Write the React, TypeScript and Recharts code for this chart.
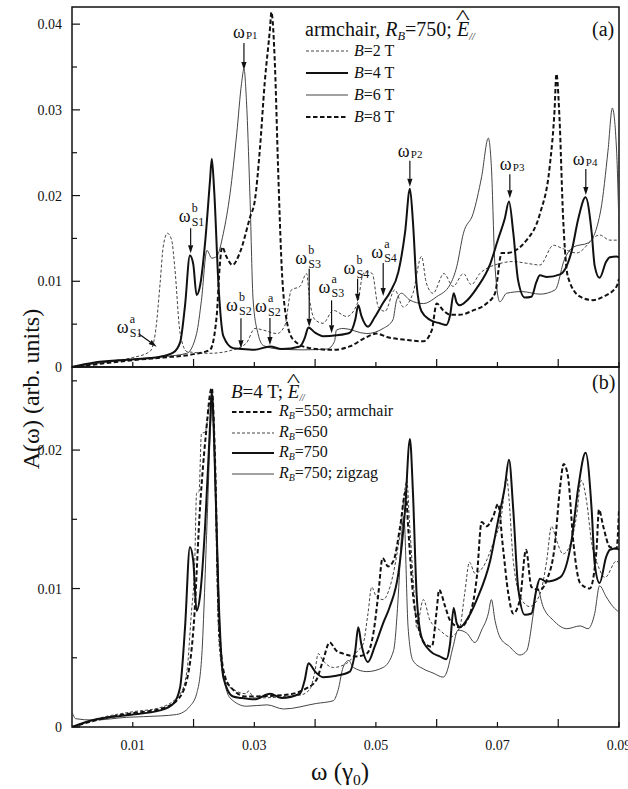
import React from 'react'
import { LineChart, Line, XAxis, YAxis, ReferenceArea, ReferenceDot } from 'recharts'

type Pt = [number, number]

// (a) armchair ring, R_B = 750, spectra for several fields
const fieldB2: Pt[] = [
  [0, 0], [0.005, 0.0006], [0.01, 0.0011], [0.0128, 0.0018], [0.0137, 0.0039], [0.0145, 0.0098],
  [0.015, 0.014], [0.0157, 0.0156], [0.0164, 0.0148], [0.0169, 0.0117], [0.0178, 0.0039],
  [0.0189, 0.0018], [0.0227, 0.0016], [0.0265, 0.002], [0.0287, 0.0028], [0.0301, 0.0045],
  [0.0315, 0.0043], [0.0337, 0.0039], [0.035, 0.0048], [0.0361, 0.009], [0.0375, 0.0094],
  [0.0386, 0.0109], [0.0391, 0.0078], [0.04, 0.0055], [0.0413, 0.0051], [0.043, 0.0066],
  [0.0452, 0.0059], [0.047, 0.0075], [0.0479, 0.0109], [0.0485, 0.0111], [0.0494, 0.0109],
  [0.0504, 0.007], [0.0515, 0.0065], [0.0531, 0.009], [0.0545, 0.007], [0.0561, 0.0086],
  [0.0575, 0.0129], [0.0583, 0.0098], [0.0594, 0.0086], [0.0612, 0.0109], [0.0627, 0.0094],
  [0.0644, 0.0109], [0.0657, 0.0096], [0.0671, 0.0109], [0.0688, 0.0117], [0.07, 0.012],
  [0.0725, 0.0123], [0.0748, 0.0121], [0.077, 0.0119], [0.0792, 0.0142], [0.0808, 0.0138],
  [0.083, 0.0133], [0.0868, 0.0154], [0.0885, 0.0148], [0.09, 0.0148],
]

const fieldB4: Pt[] = [
  [0, 0], [0.0035, 0.0005], [0.009, 0.00085], [0.0145, 0.0012], [0.0167, 0.0017], [0.0178, 0.0029],
  [0.0186, 0.0072], [0.0194, 0.013], [0.01995, 0.012], [0.0205, 0.0084], [0.0211, 0.0096],
  [0.0219, 0.0145], [0.0227, 0.0217], [0.023, 0.0243], [0.0234, 0.0205], [0.0241, 0.0096],
  [0.0249, 0.0036], [0.0265, 0.0022], [0.0278, 0.0021], [0.03, 0.002], [0.0326, 0.0024],
  [0.0345, 0.0021], [0.0375, 0.0024], [0.0383, 0.0034], [0.0389, 0.0046], [0.04, 0.004],
  [0.0413, 0.0036], [0.0435, 0.0037], [0.0457, 0.004], [0.0466, 0.0055], [0.0471, 0.0072],
  [0.0476, 0.006], [0.0487, 0.0047], [0.0498, 0.0058], [0.0512, 0.0075], [0.0523, 0.0087],
  [0.0537, 0.0111], [0.0548, 0.0157], [0.0556, 0.0208], [0.0561, 0.0169], [0.0567, 0.0096],
  [0.0575, 0.0065], [0.0589, 0.0055], [0.0605, 0.0051], [0.0616, 0.0049], [0.0622, 0.006],
  [0.0628, 0.0086], [0.0633, 0.0075], [0.0638, 0.0072], [0.0649, 0.0077], [0.0666, 0.0092],
  [0.0688, 0.012], [0.0701, 0.0149], [0.0712, 0.0173], [0.0719, 0.0193], [0.0726, 0.0157],
  [0.0734, 0.0101], [0.0745, 0.0081], [0.0756, 0.0082], [0.0764, 0.0099], [0.077, 0.0107],
  [0.0781, 0.0105], [0.0803, 0.0108], [0.0822, 0.0135], [0.0833, 0.0173], [0.0845, 0.0198],
  [0.0855, 0.0157], [0.086, 0.0118], [0.0868, 0.0104], [0.0879, 0.0123], [0.0885, 0.0128],
  [0.0896, 0.0129], [0.09, 0.0128],
]

const fieldB6: Pt[] = [
  [0, 0], [0.005, 0.0005], [0.01, 0.0009], [0.015, 0.0012], [0.0189, 0.0016], [0.0205, 0.0039],
  [0.0213, 0.0078], [0.0222, 0.0136], [0.023, 0.0127], [0.0238, 0.0129], [0.0249, 0.0156],
  [0.026, 0.0202], [0.0271, 0.0272], [0.0279, 0.0331], [0.0283, 0.0348], [0.0287, 0.0311],
  [0.0293, 0.0195], [0.0298, 0.0078], [0.0306, 0.0039], [0.0315, 0.0025], [0.034, 0.0021],
  [0.038, 0.002], [0.042, 0.0021], [0.0432, 0.003], [0.0435, 0.0043], [0.0446, 0.0045],
  [0.0485, 0.0039], [0.0512, 0.0045], [0.0528, 0.0055], [0.0534, 0.0078], [0.0542, 0.0086],
  [0.0556, 0.0078], [0.0578, 0.0074], [0.06, 0.0082], [0.0622, 0.0096], [0.0633, 0.0117],
  [0.0644, 0.0156], [0.066, 0.0179], [0.0674, 0.0222], [0.0685, 0.0267], [0.069, 0.0234],
  [0.0696, 0.0117], [0.0704, 0.0076], [0.0715, 0.0086], [0.074, 0.0088], [0.077, 0.0085],
  [0.0795, 0.009], [0.081, 0.0125], [0.0825, 0.014], [0.085, 0.0145], [0.087, 0.0183],
  [0.0882, 0.0253], [0.0889, 0.0302], [0.0896, 0.0253], [0.09, 0.016],
]

const fieldB8: Pt[] = [
  [0, 0], [0.005, 0.0004], [0.01, 0.0008], [0.015, 0.0011], [0.02, 0.0015], [0.0227, 0.002],
  [0.0238, 0.0059], [0.0243, 0.0117], [0.0247, 0.014], [0.0254, 0.0129], [0.0264, 0.0119],
  [0.0276, 0.0133], [0.0293, 0.0175], [0.0301, 0.0195], [0.0309, 0.0253], [0.0317, 0.0331],
  [0.0326, 0.0397], [0.0328, 0.0414], [0.0334, 0.035], [0.0339, 0.0234], [0.0345, 0.0117],
  [0.0353, 0.0055], [0.0364, 0.0032], [0.0391, 0.0022], [0.043, 0.002], [0.0457, 0.0024],
  [0.0485, 0.0035], [0.0501, 0.0039], [0.0518, 0.0035], [0.0545, 0.0032], [0.0578, 0.003],
  [0.0592, 0.0043], [0.06, 0.0074], [0.0611, 0.0066], [0.0622, 0.0061], [0.0638, 0.0061],
  [0.066, 0.0066], [0.0682, 0.0074], [0.0696, 0.0086], [0.0707, 0.0133], [0.0715, 0.0133],
  [0.0748, 0.0148], [0.077, 0.0179], [0.0786, 0.0234], [0.0794, 0.03], [0.0797, 0.0342],
  [0.0802, 0.0292], [0.0808, 0.0175], [0.0816, 0.0105], [0.0836, 0.0082], [0.0857, 0.0078],
  [0.0874, 0.0082], [0.0896, 0.0094], [0.09, 0.0103],
]

// (b) B = 4 T, several ring radii
const radius550: Pt[] = [
  [0, 0], [0.005, 0.0006], [0.01, 0.001], [0.0145, 0.0013], [0.0172, 0.0019], [0.0189, 0.0034],
  [0.02, 0.0072], [0.0211, 0.0161], [0.022, 0.021], [0.023, 0.0245], [0.0235, 0.0198],
  [0.0242, 0.0072], [0.0252, 0.0036], [0.0265, 0.0027], [0.0287, 0.0022], [0.0348, 0.0023],
  [0.0386, 0.0028], [0.0402, 0.0034], [0.0413, 0.0048], [0.0424, 0.0061], [0.0435, 0.0055],
  [0.0446, 0.0053], [0.0468, 0.0051], [0.0485, 0.0053], [0.0496, 0.0068], [0.0504, 0.0096],
  [0.0511, 0.0122], [0.052, 0.0116], [0.0529, 0.012], [0.054, 0.0145], [0.0549, 0.017],
  [0.0553, 0.0145], [0.0561, 0.0096], [0.057, 0.0072], [0.0581, 0.006], [0.0592, 0.0058],
  [0.06, 0.0084], [0.0604, 0.0099], [0.0614, 0.0087], [0.0622, 0.0077], [0.0638, 0.0072],
  [0.0655, 0.0082], [0.0666, 0.0108], [0.0674, 0.0148], [0.0682, 0.0145], [0.0693, 0.0152],
  [0.0701, 0.0161], [0.0709, 0.013], [0.0718, 0.0096], [0.0726, 0.0082], [0.0737, 0.0092],
  [0.0747, 0.0128], [0.0756, 0.0101], [0.077, 0.0099], [0.0781, 0.0106], [0.0794, 0.013],
  [0.0803, 0.0173], [0.0809, 0.019], [0.0816, 0.0181], [0.0825, 0.0133], [0.0836, 0.0104],
  [0.0852, 0.01], [0.0863, 0.0128], [0.0867, 0.0157], [0.0874, 0.0145], [0.0885, 0.013],
  [0.0896, 0.0129], [0.09, 0.0157],
]

const radius650: Pt[] = [
  [0, 0], [0.005, 0.0007], [0.01, 0.0011], [0.0145, 0.0014], [0.0178, 0.0024], [0.0189, 0.004],
  [0.0196, 0.008], [0.0202, 0.012], [0.0205, 0.0169], [0.0209, 0.017], [0.0213, 0.0212],
  [0.0219, 0.0213], [0.0227, 0.0235], [0.023, 0.024], [0.0235, 0.0181], [0.0242, 0.006],
  [0.0252, 0.0033], [0.027, 0.0026], [0.0287, 0.0024], [0.029, 0.0026], [0.03, 0.0021],
  [0.0375, 0.0023], [0.0391, 0.0027], [0.04, 0.0041], [0.0405, 0.0053], [0.0413, 0.0048],
  [0.043, 0.0043], [0.0452, 0.0046], [0.047, 0.0055], [0.0479, 0.006], [0.0487, 0.0082],
  [0.0493, 0.0101], [0.0501, 0.0094], [0.0512, 0.0092], [0.0523, 0.0101], [0.054, 0.014],
  [0.0551, 0.0178], [0.0555, 0.015], [0.0563, 0.0096], [0.0567, 0.0072], [0.0578, 0.0092],
  [0.0589, 0.0077], [0.0605, 0.007], [0.0622, 0.0065], [0.0638, 0.0072], [0.0646, 0.0096],
  [0.0654, 0.0119], [0.0663, 0.0111], [0.0677, 0.0116], [0.0693, 0.0133], [0.0707, 0.0154],
  [0.0715, 0.0181], [0.0719, 0.0165], [0.0726, 0.012], [0.074, 0.0092], [0.0753, 0.0087],
  [0.077, 0.0096], [0.0781, 0.012], [0.0789, 0.0145], [0.0797, 0.0135], [0.0808, 0.0125],
  [0.0819, 0.0131], [0.083, 0.0152], [0.0838, 0.0178], [0.0847, 0.0162], [0.0855, 0.0133],
  [0.0866, 0.0116], [0.0877, 0.0108], [0.0896, 0.012], [0.09, 0.0118],
]

// R_B = 750 armchair at 4 T is the same spectrum as in (a)
const radius750 = fieldB4

const radius750zz: Pt[] = [
  [0, 0.0011], [0.0006, 0.0006], [0.0035, 0.0005], [0.009, 0.0007], [0.0145, 0.0008],
  [0.0172, 0.0009], [0.0194, 0.0015], [0.0205, 0.0024], [0.0213, 0.0048], [0.0222, 0.0145],
  [0.0228, 0.0217], [0.0231, 0.0238], [0.0238, 0.0145], [0.0246, 0.0048], [0.026, 0.0021],
  [0.0287, 0.0015], [0.0321, 0.0016], [0.0348, 0.0013], [0.0402, 0.0017], [0.043, 0.0019],
  [0.0438, 0.0027], [0.0446, 0.0043], [0.0455, 0.0048], [0.0463, 0.0043], [0.0485, 0.004],
  [0.0512, 0.0043], [0.0529, 0.0055], [0.0537, 0.0096], [0.0542, 0.0137], [0.0546, 0.0152],
  [0.0553, 0.0072], [0.0561, 0.0048], [0.0578, 0.0042], [0.0594, 0.0039], [0.0611, 0.0036],
  [0.0616, 0.0039], [0.0627, 0.0058], [0.0635, 0.007], [0.0649, 0.0068], [0.0663, 0.0061],
  [0.0674, 0.007], [0.0685, 0.0082], [0.069, 0.0092], [0.0696, 0.0077], [0.0704, 0.0065],
  [0.072, 0.0058], [0.0737, 0.0052], [0.0748, 0.0055], [0.0759, 0.0082], [0.0765, 0.0101],
  [0.0775, 0.0087], [0.0792, 0.0077], [0.0814, 0.0071], [0.0836, 0.0073], [0.0849, 0.0071],
  [0.086, 0.0082], [0.0868, 0.0102], [0.0879, 0.0094], [0.089, 0.0087], [0.09, 0.0083],
]

const xTicks = [0.01, 0.02, 0.03, 0.04, 0.05, 0.06, 0.07, 0.08, 0.09]
const yTicksA = [0, 0.005, 0.01, 0.015, 0.02, 0.025, 0.03, 0.035, 0.04]
const yTicksB = [0, 0.005, 0.01, 0.015, 0.02, 0.025]

// labelled peaks in (a): ω_sub^sup, arrow tip at (x, y)
const peakMarks = [
  { sub: 'S1', sup: 'a', x: 0.01393, y: 0.00237 },
  { sub: 'S1', sup: 'b', x: 0.01952, y: 0.01327 },
  { sub: 'P1', sup: '', x: 0.02829, y: 0.03465 },
  { sub: 'S2', sup: 'b', x: 0.0278, y: 0.00218 },
  { sub: 'S2', sup: 'a', x: 0.03257, y: 0.00257 },
  { sub: 'S3', sup: 'b', x: 0.03903, y: 0.0047 },
  { sub: 'S3', sup: 'a', x: 0.04271, y: 0.00393 },
  { sub: 'S4', sup: 'b', x: 0.04699, y: 0.00762 },
  { sub: 'S4', sup: 'a', x: 0.0512, y: 0.00828 },
  { sub: 'P2', sup: '', x: 0.05559, y: 0.02104 },
  { sub: 'P3', sup: '', x: 0.07204, y: 0.01968 },
  { sub: 'P4', sup: '', x: 0.08454, y: 0.02007 },
]

// arrow tail and label placement (px, relative to the arrow tip)
const markOffsets: Record<string, { tail: [number, number]; label: [number, number] }> = {
  S1a: { tail: [-18, -13], label: [-40, -14] },
  S1b: { tail: [0, -25], label: [-12, -31] },
  P1: { tail: [0, -27], label: [-11, -32] },
  S2b: { tail: [0, -30], label: [-15, -37] },
  S2a: { tail: [0, -27], label: [-15, -33] },
  S3b: { tail: [0, -58], label: [-14, -63] },
  S3a: { tail: [0, -33], label: [-13, -40] },
  S4b: { tail: [0, -23], label: [-14, -28] },
  S4a: { tail: [0, -33], label: [-12, -38] },
  P2: { tail: [0, -26], label: [-12, -30] },
  P3: { tail: [0, -24], label: [-10, -28] },
  P4: { tail: [0, -26], label: [-13, -30] },
}

const SERIF = '"Liberation Serif", "Times New Roman", "DejaVu Serif", serif'
const INK = '#111'
const GREY = '#444'

const rows = (pts: Pt[]) => pts.map(([x, y]) => ({ x, y }))

const XTick = ({ x, y, payload, showLabel }: any) => {
  const odd = Math.round(payload.value * 100) % 2 === 1
  return (
    <g>
      <line x1={x} x2={x} y1={y} y2={y - (odd ? 5 : 8)} stroke={INK} strokeWidth={1.2} />
      {showLabel && odd && (
        <text x={x} y={y + 23} textAnchor="middle" fontSize={14} fontFamily={SERIF} fill={INK}>
          {payload.value.toFixed(2)}
        </text>
      )}
    </g>
  )
}

const YTick = ({ x, y, payload }: any) => {
  const v = payload.value
  const major = Math.round(v * 1000) % 10 === 0
  return (
    <g>
      <line x1={x} x2={x + (major ? 8 : 5)} y1={y} y2={y} stroke={INK} strokeWidth={1.2} />
      {major && (
        <text x={x - 10} y={y + 5} textAnchor="end" fontSize={14} fontFamily={SERIF} fill={INK}>
          {v === 0 ? '0' : v.toFixed(2)}
        </text>
      )}
    </g>
  )
}

const PeakMark = ({ cx, cy, mark }: any) => {
  const key = mark.sub + mark.sup
  const { tail, label } = markOffsets[key]
  const tx = cx + tail[0]
  const ty = cy + tail[1]
  const len = Math.hypot(cx - tx, cy - ty)
  const ux = (cx - tx) / len
  const uy = (cy - ty) / len
  const hx = cx - ux * 8
  const hy = cy - uy * 8
  const lx = cx + label[0]
  const ly = cy + label[1]
  const isP = mark.sup === ''
  return (
    <g fontFamily={SERIF} fill={INK}>
      <line x1={tx} y1={ty} x2={hx} y2={hy} stroke={INK} strokeWidth={1.2} />
      <polygon
        points={`${cx},${cy} ${hx - uy * 2.6},${hy + ux * 2.6} ${hx + uy * 2.6},${hy - ux * 2.6}`}
        fill={INK}
      />
      <text x={lx} y={ly} fontSize={18}>ω</text>
      {mark.sup && <text x={lx + 13} y={ly - 10} fontSize={12}>{mark.sup}</text>}
      <text x={lx + 13} y={ly + (isP ? 1 : 4)} fontSize={isP ? 11 : 12}>{mark.sub}</text>
    </g>
  )
}

const Sample = ({ width, dash }: { width: number; dash?: string }) => (
  <svg width={42} height={16} style={{ display: 'block' }}>
    <line x1={0} x2={42} y1={8} y2={8} stroke={width > 1.5 ? INK : GREY} strokeWidth={width} strokeDasharray={dash} />
  </svg>
)

const Sub = ({ children }: any) => (
  <span style={{ fontSize: '0.62em', position: 'relative', top: '0.3em' }}>{children}</span>
)

const EHat = () => (
  <span>
    <span style={{ position: 'relative', fontStyle: 'italic' }}>
      E
      <span style={{ position: 'absolute', left: 1, top: '-0.55em', fontStyle: 'normal', transform: 'scaleX(1.5)' }}>^</span>
    </span>
    <span style={{ fontSize: '0.5em', fontStyle: 'italic', position: 'relative', top: '0.35em' }}>//</span>
  </span>
)

const LegendRow = ({ top, left, textLeft, width, dash, children }: any) => (
  <div style={{ position: 'absolute', top, left, display: 'flex', alignItems: 'center', height: 16 }}>
    <Sample width={width} dash={dash} />
    <span style={{ marginLeft: textLeft, fontSize: 16, lineHeight: '16px', whiteSpace: 'nowrap' }}>{children}</span>
  </div>
)

const seriesA = [
  { key: 'b2', data: fieldB2, width: 1, dash: '3 2' },
  { key: 'b6', data: fieldB6, width: 1, dash: undefined },
  { key: 'b8', data: fieldB8, width: 2, dash: '4.5 2.5' },
  { key: 'b4', data: fieldB4, width: 2, dash: undefined },
]

const seriesB = [
  { key: 'r650', data: radius650, width: 1, dash: '3 2' },
  { key: 'r750zz', data: radius750zz, width: 1, dash: undefined },
  { key: 'r550', data: radius550, width: 2, dash: '4.5 2.5' },
  { key: 'r750', data: radius750, width: 2, dash: undefined },
]

const renderLines = (series: typeof seriesA) =>
  series.map((s) => (
    <Line
      key={s.key}
      data={rows(s.data)}
      dataKey="y"
      type="monotone"
      stroke={s.width > 1.5 ? INK : GREY}
      strokeWidth={s.width}
      strokeDasharray={s.dash}
      dot={false}
      activeDot={false}
      isAnimationActive={false}
    />
  ))

export default function App() {
  return (
    <div
      style={{
        position: 'absolute',
        left: 0,
        top: 0,
        width: 628,
        height: 789,
        overflow: 'hidden',
        background: '#fff',
        fontFamily: SERIF,
        color: INK,
      }}
    >
      {/* panel (b) first so that panel (a)'s zero label sits on top */}
      <div style={{ position: 'absolute', left: 0, top: 360 }}>
        <LineChart width={628} height={429} margin={{ top: 7, right: 9, left: 0, bottom: 0 }}>
          <XAxis
            type="number"
            dataKey="x"
            domain={[0, 0.09]}
            ticks={xTicks}
            interval={0}
            allowDataOverflow
            axisLine={false}
            tickLine={false}
            tickSize={0}
            tickMargin={0}
            height={62}
            tick={(p: any) => <XTick {...p} showLabel />}
          />
          <YAxis
            type="number"
            domain={[0, 0.026]}
            ticks={yTicksB}
            interval={0}
            allowDataOverflow
            axisLine={false}
            tickLine={false}
            tickSize={0}
            tickMargin={0}
            width={72}
            tick={(p: any) => <YTick {...p} />}
          />
          <ReferenceArea x1={0} x2={0.09} y1={0} y2={0.026} fill="none" stroke={INK} strokeWidth={1.5} ifOverflow="visible" />
          {renderLines(seriesB)}
        </LineChart>
      </div>

      {/* panel (a) */}
      <div style={{ position: 'absolute', left: 0, top: 0 }}>
        <LineChart width={628} height={380} margin={{ top: 7, right: 9, left: 0, bottom: 0 }}>
          <XAxis
            type="number"
            dataKey="x"
            domain={[0, 0.09]}
            ticks={xTicks}
            interval={0}
            allowDataOverflow
            axisLine={false}
            tickLine={false}
            tickSize={0}
            tickMargin={0}
            height={13}
            tick={(p: any) => <XTick {...p} />}
          />
          <YAxis
            type="number"
            domain={[0, 0.042]}
            ticks={yTicksA}
            interval={0}
            allowDataOverflow
            axisLine={false}
            tickLine={false}
            tickSize={0}
            tickMargin={0}
            width={72}
            tick={(p: any) => <YTick {...p} />}
          />
          <ReferenceArea x1={0} x2={0.09} y1={0} y2={0.042} fill="none" stroke={INK} strokeWidth={1.5} ifOverflow="visible" />
          {renderLines(seriesA)}
          {peakMarks.map((m) => (
            <ReferenceDot
              key={m.sub + m.sup}
              x={m.x}
              y={m.y}
              r={0}
              ifOverflow="visible"
              shape={(p: any) => <PeakMark cx={p.cx} cy={p.cy} mark={m} />}
            />
          ))}
        </LineChart>
      </div>

      {/* legend (a) */}
      <div style={{ position: 'absolute', left: 305, top: 19, fontSize: 20, lineHeight: '20px', whiteSpace: 'nowrap' }}>
        armchair, <i>R</i><Sub><i>B</i></Sub>=750; <EHat />
      </div>
      <div style={{ position: 'absolute', left: 592, top: 19, fontSize: 20, lineHeight: '20px' }}>(a)</div>
      <LegendRow top={43} left={306} textLeft={6} width={1} dash="3 2"><i>B</i>=2 T</LegendRow>
      <LegendRow top={65} left={306} textLeft={6} width={2}><i>B</i>=4 T</LegendRow>
      <LegendRow top={87} left={306} textLeft={6} width={1}><i>B</i>=6 T</LegendRow>
      <LegendRow top={109} left={306} textLeft={6} width={2} dash="4.5 2.5"><i>B</i>=8 T</LegendRow>

      {/* legend (b) */}
      <div style={{ position: 'absolute', left: 231, top: 382, fontSize: 19, lineHeight: '19px', whiteSpace: 'nowrap' }}>
        <i>B</i>=4 T; <EHat />
      </div>
      <div style={{ position: 'absolute', left: 592, top: 372, fontSize: 20, lineHeight: '20px' }}>(b)</div>
      <LegendRow top={404} left={232} textLeft={5} width={2} dash="4.5 2.5"><i>R</i><Sub><i>B</i></Sub>=550; armchair</LegendRow>
      <LegendRow top={425} left={232} textLeft={5} width={1} dash="3 2"><i>R</i><Sub><i>B</i></Sub>=650</LegendRow>
      <LegendRow top={445} left={232} textLeft={5} width={2}><i>R</i><Sub><i>B</i></Sub>=750</LegendRow>
      <LegendRow top={466} left={232} textLeft={5} width={1}><i>R</i><Sub><i>B</i></Sub>=750; zigzag</LegendRow>

      {/* axis titles */}
      <div style={{ position: 'absolute', left: 311, top: 759, fontSize: 25, lineHeight: '25px', whiteSpace: 'nowrap' }}>
        ω (γ<Sub>0</Sub>)
      </div>
      <div
        style={{
          position: 'absolute',
          left: 31,
          top: 389,
          fontSize: 24,
          lineHeight: '24px',
          whiteSpace: 'nowrap',
          transform: 'translate(-50%, -50%) rotate(-90deg)',
        }}
      >
        A(ω) (arb. units)
      </div>
    </div>
  )
}
